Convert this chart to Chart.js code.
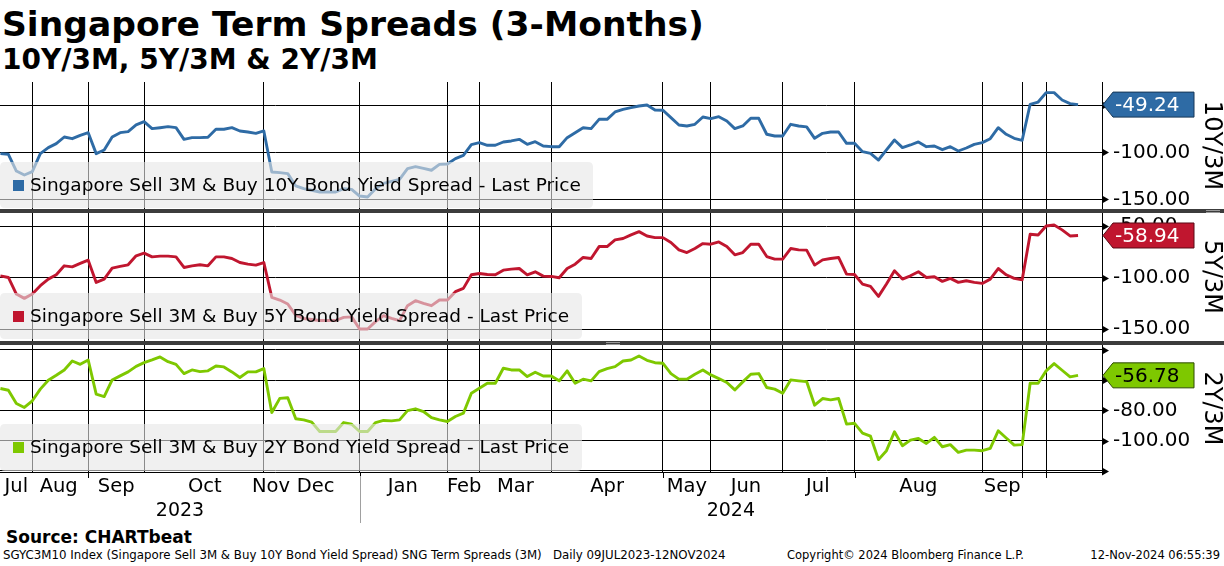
<!DOCTYPE html>
<html>
<head>
<meta charset="utf-8">
<title>Singapore Term Spreads (3-Months)</title>
<script src="https://cdn.jsdelivr.net/npm/chart.js@4.4.1/dist/chart.umd.min.js"></script>
<style>
  html, body { margin: 0; padding: 0; background: #fff; }
  body { width: 1224px; height: 566px; position: relative; overflow: hidden; font-family: "DejaVu Sans", sans-serif; color: #000; }
  .title { position: absolute; left: 2px; top: 7px; font-weight: bold; font-size: 34.5px; line-height: 1; white-space: nowrap; }
  .subtitle { position: absolute; left: 2px; top: 46px; font-weight: bold; font-size: 28px; line-height: 1; white-space: nowrap; }
  .panel { position: absolute; left: 0; }
  .sep { position: absolute; left: 0; width: 1224px; height: 4px; background: #3c3c3c; }
  .grip { position: absolute; width: 14px; height: 1px; border-top: 1px solid #9a9a9a; border-bottom: 1px solid #9a9a9a; }
  .source { position: absolute; left: 6px; top: 529px; font-weight: bold; font-size: 17px; line-height: 1; white-space: nowrap; }
  .footer { position: absolute; top: 550px; font-size: 11.5px; line-height: 1; white-space: nowrap; }
</style>
</head>
<body>
<div class="title">Singapore Term Spreads (3-Months)</div>
<div class="subtitle">10Y/3M, 5Y/3M &amp; 2Y/3M</div>

<canvas id="p10y" class="panel" style="top:82px" width="1224" height="127"></canvas>
<div class="sep" style="top:209px"><div class="grip" style="left:1206px;top:1px"></div></div>
<canvas id="p5y" class="panel" style="top:213px" width="1224" height="128"></canvas>
<div class="sep" style="top:341px"><div class="grip" style="left:606px;top:1px"></div></div>
<canvas id="p2y" class="panel" style="top:345px" width="1224" height="181"></canvas>

<div class="source">Source: CHARTbeat</div>
<div class="footer" style="left:3px;font-size:11.8px">SGYC3M10 Index (Singapore Sell 3M &amp; Buy 10Y Bond Yield Spread) SNG Term Spreads (3M)&nbsp;&nbsp; Daily 09JUL2023-12NOV2024</div>
<div class="footer" style="left:787px">Copyright© 2024 Bloomberg Finance L.P.</div>
<div class="footer" style="right:4px">12-Nov-2024 06:55:39</div>

<script>
// observations run 09JUL2023 .. 12NOV2024, one value per observation
const spread10y = [
  -101.4, -102.1, -119.9, -124.1, -120.6, -101.4, -95.0, -90.8, -83.7, -85.5,
  -81.9, -79.1, -101.4, -97.5, -83.7, -79.1, -78.0, -70.9, -67.4, -74.8,
  -73.8, -72.7, -73.8, -86.2, -84.4, -84.4, -84.0, -75.5, -75.5, -73.8,
  -77.3, -78.4, -79.8, -77.3, -120.9, -121.6, -122.7, -135.8, -138.7, -140.4,
  -142.2, -142.2, -142.2, -138.7, -139.4, -146.5, -147.5, -138.7, -133.0, -130.9,
  -128.7, -117.4, -115.2, -117.0, -119.1, -112.8, -112.4, -106.7, -103.2, -91.8,
  -89.7, -92.5, -92.5, -89.0, -87.9, -86.2, -91.5, -88.7, -93.3, -94.0,
  -94.0, -84.4, -79.1, -73.8, -74.8, -64.9, -64.9, -57.1, -54.3, -52.5,
  -50.7, -49.6, -55.0, -55.3, -63.1, -70.9, -72.0, -70.2, -62.4, -64.2,
  -62.1, -66.7, -74.8, -72.0, -63.8, -63.8, -80.8, -82.6, -82.6, -70.2,
  -72.0, -73.0, -85.1, -79.8, -78.4, -78.4, -90.4, -90.4, -99.3, -101.1,
  -108.2, -97.5, -86.9, -95.0, -92.2, -89.0, -94.0, -93.3, -97.2, -94.0,
  -98.6, -95.4, -91.5, -89.7, -85.5, -73.8, -80.8, -85.1, -87.2, -48.9,
  -46.5, -36.5, -36.5, -44.3, -48.2, -49.24
];
const spread5y = [
  -98.1, -99.7, -115.8, -120.0, -115.8, -107.7, -101.3, -97.1, -88.4, -89.4,
  -86.1, -82.9, -104.5, -101.3, -90.6, -89.0, -87.4, -78.7, -76.1, -79.7,
  -79.0, -79.0, -79.7, -90.0, -88.4, -87.4, -88.4, -79.7, -79.7, -81.3,
  -85.2, -86.8, -87.7, -85.2, -119.0, -121.6, -125.5, -136.5, -139.5, -140.5,
  -141.5, -141.5, -141.5, -138.5, -138.0, -149.7, -149.7, -142.6, -136.8, -139.4,
  -141.6, -127.1, -122.3, -124.8, -127.1, -121.6, -121.6, -113.5, -110.3, -97.1,
  -95.8, -96.8, -97.1, -92.6, -91.6, -91.0, -97.1, -94.2, -98.4, -98.7,
  -100.0, -91.0, -86.8, -80.3, -81.3, -69.7, -69.7, -63.2, -61.9, -58.4,
  -55.2, -59.4, -61.0, -61.0, -65.8, -72.9, -75.5, -71.6, -66.8, -67.4,
  -65.2, -69.7, -77.7, -75.5, -67.4, -67.4, -79.4, -81.9, -81.9, -71.6,
  -72.9, -73.2, -87.7, -82.6, -81.3, -80.3, -96.5, -96.8, -106.1, -108.4,
  -118.1, -106.1, -93.2, -101.3, -98.1, -94.2, -99.7, -99.0, -103.5, -100.6,
  -104.5, -102.9, -104.5, -105.5, -101.3, -91.0, -97.1, -100.6, -101.9, -57.7,
  -58.4, -49.7, -48.7, -53.5, -59.4, -58.94
];
const spread2y = [
  -65.5, -66.6, -75.4, -78.0, -73.6, -65.9, -60.0, -56.7, -53.2, -47.3,
  -49.5, -46.6, -69.2, -70.8, -59.8, -57.1, -54.5, -50.8, -48.4, -46.6,
  -44.6, -47.7, -49.5, -55.6, -53.2, -54.3, -53.8, -50.6, -51.2, -54.5,
  -58.2, -54.5, -54.5, -52.3, -81.3, -72.0, -71.6, -85.5, -86.2, -87.7,
  -93.9, -93.9, -93.9, -88.0, -89.1, -93.9, -93.9, -88.0, -86.6, -86.9,
  -86.2, -80.1, -78.9, -80.7, -84.7, -86.2, -87.3, -84.0, -81.8, -68.6,
  -65.3, -62.0, -62.0, -52.1, -53.2, -53.2, -57.6, -54.7, -57.2, -57.2,
  -60.4, -53.8, -62.0, -59.3, -60.4, -54.3, -52.3, -51.0, -47.3, -46.6,
  -44.0, -46.8, -48.4, -48.8, -55.6, -59.3, -59.3, -56.0, -53.2, -56.5,
  -58.9, -61.5, -66.4, -61.1, -56.0, -55.6, -64.8, -65.9, -68.6, -59.8,
  -60.4, -60.9, -76.5, -72.1, -73.0, -72.1, -89.0, -88.5, -95.0, -97.0,
  -112.5, -106.6, -94.1, -103.3, -99.6, -98.5, -101.8, -97.8, -104.0, -102.6,
  -107.7, -106.2, -106.2, -106.6, -105.1, -93.4, -98.2, -102.9, -102.6, -62.0,
  -62.0, -53.8, -49.0, -53.4, -57.8, -56.78
];

// x axis: observation numbers where the grid lines, month and year labels sit
const gridObs = [4, 11, 18, 33, 45, 56, 60, 69, 83, 89, 98, 107, 123, 128, 131];
const tickMarkObs = [11, 45, 83, 107, 128, 131];
const monthLabels = ['Jul', 'Aug', 'Sep', 'Oct', 'Nov', 'Dec', 'Jan', 'Feb', 'Mar', 'Apr', 'May', 'Jun', 'Jul', 'Aug', 'Sep'];
const monthObs = [2.0, 7.3, 14.5, 25.6, 33.9, 39.5, 50.4, 58.1, 64.5, 76.0, 86.0, 93.4, 102.4, 115.0, 125.5];
const yearLabels = ['2023', '2024'];
const yearObs = [22.5, 91.5];
const yearBreakObs = 45;

// y axes
const ticks10y = [-150, -125, -100, -75, -50, -25];
const grid10y = [-150, -100, -50];
const ticks5y = [-150, -125, -100, -75, -50];
const grid5y = [-150, -100, -50];
const ticks2y = [-120, -110, -100, -90, -80, -70, -60, -50, -40];
const grid2y = [-120, -100, -80, -60, -40];
const labels2y = [-100, -80, -60];

const FONT = '"DejaVu Sans", sans-serif';
const X_MIN = -0.05, X_MAX = 138;

function roundBox(ctx, x, y, w, h, r) {
  ctx.beginPath();
  ctx.moveTo(x + r, y);
  ctx.lineTo(x + w - r, y);
  ctx.quadraticCurveTo(x + w, y, x + w, y + r);
  ctx.lineTo(x + w, y + h - r);
  ctx.quadraticCurveTo(x + w, y + h, x + w - r, y + h);
  ctx.lineTo(x + r, y + h);
  ctx.quadraticCurveTo(x, y + h, x, y + h - r);
  ctx.lineTo(x, y + r);
  ctx.quadraticCurveTo(x, y, x + r, y);
  ctx.closePath();
}

const panelDecor = {
  id: 'panelDecor',
  afterDatasetsDraw(chart, args, o) {
    const ctx = chart.ctx;
    const lg = o.legend;
    ctx.save();
    ctx.fillStyle = 'rgba(230,230,230,0.6)';
    roundBox(ctx, lg.x, lg.y, lg.w, lg.h, 5);
    ctx.fill();
    ctx.fillStyle = o.color;
    ctx.fillRect(13, lg.y + 18, 11, 11);
    ctx.fillStyle = '#000';
    ctx.font = '18.5px ' + FONT;
    ctx.textBaseline = 'middle';
    ctx.textAlign = 'left';
    ctx.fillText(chart.data.datasets[0].label, 30, lg.y + 24);
    ctx.restore();
  },
  afterDraw(chart, args, o) {
    const ctx = chart.ctx;
    const yS = chart.scales.y;
    const area = chart.chartArea;
    const xr = area.right;
    ctx.save();
    ctx.fillStyle = '#000';
    ctx.strokeStyle = '#000';
    ctx.lineWidth = 1;
    yS.ticks.forEach(t => {
      const py = Math.round(yS.getPixelForValue(t.value)) + 0.5;
      if (o.gridVals.includes(t.value)) {
        ctx.beginPath();
        ctx.moveTo(xr, py - 4);
        ctx.lineTo(xr + 7, py);
        ctx.lineTo(xr, py + 4);
        ctx.closePath();
        ctx.fill();
      } else {
        ctx.beginPath();
        ctx.moveTo(xr, py);
        ctx.lineTo(xr + 6, py);
        ctx.stroke();
      }
    });

    if (o.bottom) {
      const xS = chart.scales.x;
      tickMarkObs.forEach(v => {
        const px = Math.round(xS.getPixelForValue(v)) + 0.5;
        ctx.beginPath();
        ctx.moveTo(px, area.bottom);
        ctx.lineTo(px, area.bottom + 6);
        ctx.stroke();
      });
      const bx = Math.round(xS.getPixelForValue(yearBreakObs)) + 0.5;
      ctx.strokeStyle = '#a0a0a0';
      ctx.beginPath();
      ctx.moveTo(bx, area.bottom + 4);
      ctx.lineTo(bx, area.bottom + 51);
      ctx.stroke();
    }

    // last price tag
    const pts = chart.data.datasets[0].data;
    const last = pts[pts.length - 1].y;
    const py = yS.getPixelForValue(last);
    const h = 25;
    ctx.beginPath();
    ctx.moveTo(xr + 1, py);
    ctx.lineTo(xr + 11, py - h / 2);
    ctx.lineTo(xr + 92, py - h / 2);
    ctx.lineTo(xr + 92, py + h / 2);
    ctx.lineTo(xr + 11, py + h / 2);
    ctx.closePath();
    ctx.fillStyle = o.color;
    ctx.fill();
    ctx.strokeStyle = o.tagEdge;
    ctx.stroke();
    ctx.fillStyle = o.tagText;
    ctx.font = '20px ' + FONT;
    ctx.textBaseline = 'middle';
    ctx.textAlign = 'left';
    ctx.fillText(last.toFixed(2), xr + 13, py + 1);
    ctx.restore();
  }
};

function makePanel(id, p) {
  const scales = {
    x: {
      type: 'linear', min: X_MIN, max: X_MAX, weight: 0,
      afterBuildTicks: s => { s.ticks = gridObs.map(v => ({ value: v })); },
      afterFit: s => { s.height = 0; s.paddingLeft = 0; s.paddingRight = 0; },
      ticks: { display: false },
      grid: { color: '#000', lineWidth: 1, drawTicks: false },
      border: { display: !!p.bottom, color: '#000', width: 1 }
    },
    y: {
      position: 'right', min: p.min, max: p.max,
      afterBuildTicks: s => { s.ticks = p.ticks.map(v => ({ value: v })); },
      afterFit: s => { s.width = 122; s.paddingTop = 0; s.paddingBottom = 0; },
      ticks: {
        padding: 11, color: '#000', font: { family: FONT, size: 20 },
        callback: v => p.labels.includes(v) ? v.toFixed(2) : ''
      },
      grid: {
        drawTicks: false, lineWidth: 1,
        color: c => p.gridVals.includes(c.tick.value) ? '#000' : 'rgba(0,0,0,0)'
      },
      border: { color: '#000', width: 1 },
      title: {
        display: true, text: p.axisTitle, color: '#000', padding: 0,
        font: { family: FONT, size: 24, lineHeight: 1.1 }
      }
    }
  };

  if (p.bottom) {
    scales.xm = {
      type: 'linear', position: 'bottom', min: X_MIN, max: X_MAX, weight: 1,
      afterBuildTicks: s => { s.ticks = monthObs.map(v => ({ value: v })); },
      afterFit: s => { s.height = 28; s.paddingLeft = 0; s.paddingRight = 0; },
      ticks: {
        autoSkip: false, maxRotation: 0, padding: 3, color: '#000',
        font: { family: FONT, size: 19.5 },
        callback: (v, i) => monthLabels[i]
      },
      grid: { display: false, drawTicks: false },
      border: { display: false }
    };
    scales.xy = {
      type: 'linear', position: 'bottom', min: X_MIN, max: X_MAX, weight: 2,
      afterBuildTicks: s => { s.ticks = yearObs.map(v => ({ value: v })); },
      afterFit: s => { s.height = 26; s.paddingLeft = 0; s.paddingRight = 0; },
      ticks: {
        autoSkip: false, maxRotation: 0, padding: 0, color: '#000',
        font: { family: FONT, size: 19 },
        callback: (v, i) => yearLabels[i]
      },
      grid: { display: false, drawTicks: false },
      border: { display: false }
    };
  }

  return new Chart(document.getElementById(id), {
    type: 'line',
    data: {
      datasets: [{
        label: p.label,
        data: p.values.map((v, i) => ({ x: i, y: v })),
        borderColor: p.color,
        borderWidth: 2.9,
        borderJoinStyle: 'round',
        pointRadius: 0,
        tension: 0,
        fill: false
      }]
    },
    options: {
      responsive: false,
      animation: false,
      parsing: false,
      layout: { padding: 0 },
      plugins: {
        legend: { display: false },
        tooltip: { enabled: false },
        panelDecor: {
          color: p.color, tagEdge: p.tagEdge, tagText: p.tagText,
          legend: p.legend, gridVals: p.gridVals, bottom: !!p.bottom
        }
      },
      scales
    },
    plugins: [panelDecor]
  });
}

makePanel('p10y', {
  label: 'Singapore Sell 3M & Buy 10Y Bond Yield Spread - Last Price',
  values: spread10y, color: '#2e6ba5', tagEdge: '#163756', tagText: '#fff',
  min: -160.3, max: -25.2, ticks: ticks10y, gridVals: grid10y, labels: grid10y,
  axisTitle: '10Y/3M', legend: { x: 0, y: 80, w: 593, h: 46 }
});
makePanel('p5y', {
  label: 'Singapore Sell 3M & Buy 5Y Bond Yield Spread - Last Price',
  values: spread5y, color: '#c0162f', tagEdge: '#5a0a16', tagText: '#fff',
  min: -161.4, max: -37.1, ticks: ticks5y, gridVals: grid5y, labels: grid5y,
  axisTitle: '5Y/3M', legend: { x: 0, y: 80, w: 582, h: 46 }
});
makePanel('p2y', {
  label: 'Singapore Sell 3M & Buy 2Y Bond Yield Spread - Last Price',
  values: spread2y, color: '#7ec800', tagEdge: '#2d4a00', tagText: '#000',
  min: -120.7, max: -36.7, ticks: ticks2y, gridVals: grid2y, labels: labels2y,
  axisTitle: '2Y/3M', legend: { x: 0, y: 79, w: 582, h: 47 }, bottom: true
});
</script>
</body>
</html>
